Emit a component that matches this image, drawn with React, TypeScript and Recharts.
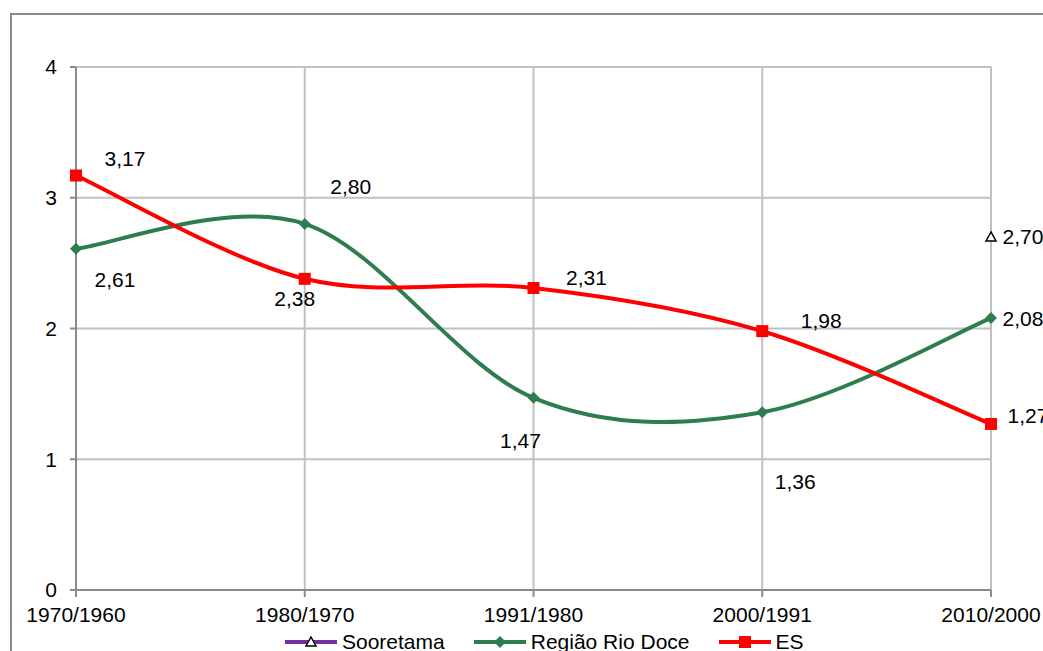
import { LineChart, Line, XAxis, YAxis, CartesianGrid, LabelList } from "recharts";

const periods = ["1970/1960", "1980/1970", "1991/1980", "2000/1991", "2010/2000"];
const sooretama = [null, null, null, null, 2.7];
const regiaoRioDoce = [2.61, 2.8, 1.47, 1.36, 2.08];
const es = [3.17, 2.38, 2.31, 1.98, 1.27];
const yTicks = [0, 1, 2, 3, 4];

const data = periods.map((period, i) => ({
  period,
  sooretama: sooretama[i],
  rioDoce: regiaoRioDoce[i],
  es: es[i],
}));

// where each value label sits relative to its point (dx, dy to the text centre)
const esLabelShift = [[49, -17], [-10, 20], [53, -10], [59, -11], [37, -8]];
const rioDoceLabelShift = [[39, 31], [46, -37], [-13, 43], [33, 69], [32, 0]];
const sooretamaLabelShift = [[0, 0], [0, 0], [0, 0], [0, 0], [32, 0]];

const FONT = "'Liberation Sans', Arial, sans-serif";
const PURPLE = "#7030a0";
const GREEN = "#2e7d4f";
const RED = "#ff0000";

// Excel-like smoothed line (Catmull-Rom through the points)
function smoothCurve(context: any) {
  let pts: number[][] = [];
  let area = NaN;
  return {
    areaStart() { area = 0; },
    areaEnd() { area = NaN; },
    lineStart() { pts = []; },
    point(x: number, y: number) { pts.push([+x, +y]); },
    lineEnd() {
      if (!pts.length) return;
      if (area === 0) context.lineTo(pts[0][0], pts[0][1]);
      else context.moveTo(pts[0][0], pts[0][1]);
      for (let i = 0; i < pts.length - 1; i++) {
        const p0 = pts[i - 1] || pts[i];
        const p1 = pts[i];
        const p2 = pts[i + 1];
        const p3 = pts[i + 2] || pts[i + 1];
        context.bezierCurveTo(
          p1[0] + (p2[0] - p0[0]) / 6,
          p1[1] + (p2[1] - p0[1]) / 6,
          p2[0] - (p3[0] - p1[0]) / 6,
          p2[1] - (p3[1] - p1[1]) / 6,
          p2[0],
          p2[1]
        );
      }
    },
  };
}

const fmt = (v: number) => v.toFixed(2).replace(".", ",");

function makeLabel(shift: number[][]) {
  return (props: any) => {
    const { x, y, value, index } = props;
    if (value == null || x == null || y == null) return null;
    const [dx, dy] = shift[index] || [0, 0];
    return (
      <text
        x={x + dx}
        y={y + dy}
        textAnchor="middle"
        dominantBaseline="central"
        fontFamily={FONT}
        fontSize={21}
        fill="#000"
      >
        {fmt(value)}
      </text>
    );
  };
}

const SquareDot = (props: any) => {
  const { cx, cy, index } = props;
  if (cx == null || cy == null) return <g key={`s${index}`} />;
  return <rect key={`s${index}`} x={cx - 6} y={cy - 6} width={12} height={12} fill={RED} />;
};

const DiamondDot = (props: any) => {
  const { cx, cy, index } = props;
  if (cx == null || cy == null) return <g key={`d${index}`} />;
  return (
    <polygon
      key={`d${index}`}
      points={`${cx},${cy - 6} ${cx + 6},${cy} ${cx},${cy + 6} ${cx - 6},${cy}`}
      fill={GREEN}
    />
  );
};

const TriangleDot = (props: any) => {
  const { cx, cy, index } = props;
  if (cx == null || cy == null) return <g key={`t${index}`} />;
  return (
    <polygon
      key={`t${index}`}
      points={`${cx},${cy - 5} ${cx + 5},${cy + 4} ${cx - 5},${cy + 4}`}
      fill="#fff"
      stroke="#000"
      strokeWidth={1.5}
    />
  );
};

function LegendIcon({ color, marker }: { color: string; marker: "triangle" | "diamond" | "square" }) {
  return (
    <svg width={52} height={14} style={{ display: "block" }}>
      <line x1={0} y1={7} x2={52} y2={7} stroke={color} strokeWidth={4} />
      {marker === "triangle" && (
        <polygon points="26,2 31,11 21,11" fill="#fff" stroke="#000" strokeWidth={1.5} />
      )}
      {marker === "diamond" && <polygon points="26,1 32,7 26,13 20,7" fill={color} />}
      {marker === "square" && <rect x={20} y={1} width={12} height={12} fill={color} />}
    </svg>
  );
}

const legendItems: { name: string; color: string; marker: "triangle" | "diamond" | "square" }[] = [
  { name: "Sooretama", color: PURPLE, marker: "triangle" },
  { name: "Região Rio Doce", color: GREEN, marker: "diamond" },
  { name: "ES", color: RED, marker: "square" },
];

export default function App() {
  return (
    <div
      style={{
        position: "absolute",
        left: 0,
        top: 0,
        width: 1043,
        height: 651,
        overflow: "hidden",
        background: "#fff",
        fontFamily: FONT,
      }}
    >
      <div
        style={{
          position: "absolute",
          left: 10,
          top: 13,
          width: 1100,
          height: 700,
          border: "2px solid #8a8a8a",
          boxSizing: "border-box",
        }}
      />
      <div style={{ position: "absolute", left: 0, top: 0 }}>
        <LineChart
          width={1043}
          height={700}
          data={data}
          margin={{ top: 67, right: 52, left: 16, bottom: 80 }}
        >
          <CartesianGrid stroke="#c0c0c0" strokeWidth={2} />
          <XAxis
            dataKey="period"
            height={30}
            stroke="#8a8a8a"
            strokeWidth={2}
            tickSize={7}
            tickMargin={10}
            tick={{ fill: "#000", fontSize: 21, fontFamily: FONT }}
            interval={0}
          />
          <YAxis
            width={60}
            domain={[0, 4]}
            ticks={yTicks}
            stroke="#8a8a8a"
            strokeWidth={2}
            tickSize={6}
            tickMargin={13}
            tick={{ fill: "#000", fontSize: 21, fontFamily: FONT }}
          />
          <Line
            dataKey="sooretama"
            name="Sooretama"
            type={smoothCurve as any}
            stroke={PURPLE}
            strokeWidth={4}
            dot={TriangleDot}
            activeDot={false}
            isAnimationActive={false}
          >
            <LabelList dataKey="sooretama" content={makeLabel(sooretamaLabelShift)} />
          </Line>
          <Line
            dataKey="rioDoce"
            name="Região Rio Doce"
            type={smoothCurve as any}
            stroke={GREEN}
            strokeWidth={4}
            dot={DiamondDot}
            activeDot={false}
            isAnimationActive={false}
          >
            <LabelList dataKey="rioDoce" content={makeLabel(rioDoceLabelShift)} />
          </Line>
          <Line
            dataKey="es"
            name="ES"
            type={smoothCurve as any}
            stroke={RED}
            strokeWidth={4}
            dot={SquareDot}
            activeDot={false}
            isAnimationActive={false}
          >
            <LabelList dataKey="es" content={makeLabel(esLabelShift)} />
          </Line>
        </LineChart>
      </div>
      <div
        style={{
          position: "absolute",
          left: 285,
          top: 631,
          display: "flex",
          alignItems: "center",
          gap: 29,
          fontSize: 21,
          lineHeight: "22px",
          color: "#000",
        }}
      >
        {legendItems.map((item) => (
          <div key={item.name} style={{ display: "flex", alignItems: "center", gap: 5 }}>
            <LegendIcon color={item.color} marker={item.marker} />
            <span>{item.name}</span>
          </div>
        ))}
      </div>
    </div>
  );
}
